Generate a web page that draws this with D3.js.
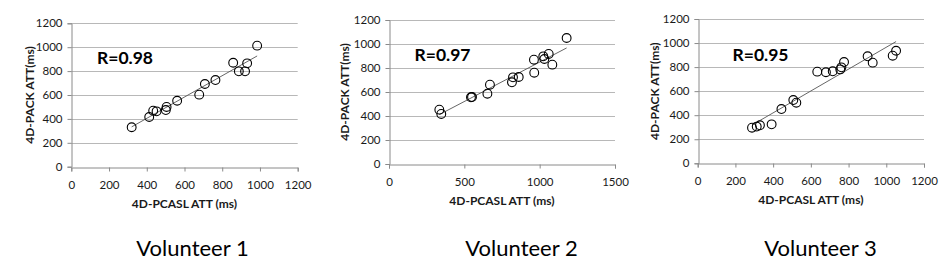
<!DOCTYPE html>
<html>
<head>
<meta charset="utf-8">
<script src="https://cdn.jsdelivr.net/npm/d3@7"></script>
<style>
  html, body { margin: 0; padding: 0; background: #fff; }
  svg { display: block; }
  text { font-family: Lato, "Noto Sans", sans-serif; }
</style>
</head>
<body>
<svg id="chart" width="945" height="274"></svg>
<script>
// ---- data ----
const volunteerLabels = ["Volunteer 1", "Volunteer 2", "Volunteer 3"];
const rLabels = ["R=0.98", "R=0.97", "R=0.95"];

const v1X = [320, 413, 434, 452, 501, 505, 561, 678, 708, 764, 858, 888, 921, 932, 985];
const v1Y = [330, 416, 469, 463, 474, 500, 552, 603, 692, 725, 870, 798, 798, 865, 1013];

const v2X = [334, 347, 544, 551, 653, 670, 816, 823, 861, 962, 964, 1024, 1031, 1060, 1084, 1179];
const v2Y = [453, 417, 556, 558, 586, 661, 681, 722, 725, 869, 761, 897, 875, 917, 828, 1050];

const v3X = [288, 313, 330, 392, 444, 507, 523, 634, 680, 716, 756, 762, 776, 901, 928, 1034, 1052];
const v3Y = [296, 305, 316, 324, 451, 526, 504, 762, 757, 765, 781, 798, 842, 890, 837, 895, 936];

const xTicksA = [0, 200, 400, 600, 800, 1000, 1200];
const xTicksB = [0, 500, 1000, 1500];
const yTicks = [0, 200, 400, 600, 800, 1000, 1200];

const xTitle = "4D-PCASL ATT (ms)";
const yTitle = "4D-PACK ATT(ms)";

// ---- layout ----
const panels = [
  { xs: v1X, ys: v1Y, xTicks: xTicksA, xMax: 1200, px: [71.3, 297.7], py: [166.7, 23.3],
    r: rLabels[0], rPos: [97, 63.5], yTitleX: 30, xTitleY: 207.5, xLabY: 185.5, vol: volunteerLabels[0], volX: 192.5 },
  { xs: v2X, ys: v2Y, xTicks: xTicksB, xMax: 1500, px: [389, 615], py: [164, 20],
    r: rLabels[1], rPos: [414.5, 61], yTitleX: 345, xTitleY: 204.5, xLabY: 184.5, vol: volunteerLabels[1], volX: 521.5 },
  { xs: v3X, ys: v3Y, xTicks: xTicksA, xMax: 1200, px: [697.7, 924], py: [163.3, 19],
    r: rLabels[2], rPos: [732.5, 60.5], yTitleX: 655, xTitleY: 204, xLabY: 183.5, vol: volunteerLabels[2], volX: 820.5 }
];

const svg = d3.select("#chart");
const gridColor = "#b8b8b8";
const axisColor = "#8a8a8a";
const labelColor = "#1a1a1a";

panels.forEach(p => {
  const x = d3.scaleLinear().domain([0, p.xMax]).range(p.px);
  const y = d3.scaleLinear().domain([0, 1200]).range(p.py);
  const g = svg.append("g");

  // gridlines
  g.append("g").selectAll("line").data(yTicks.filter(t => t > 0)).join("line")
    .attr("x1", p.px[0]).attr("x2", p.px[1])
    .attr("y1", d => Math.round(y(d)) + 0.5).attr("y2", d => Math.round(y(d)) + 0.5)
    .attr("stroke", gridColor).attr("stroke-width", 1);

  // y axis
  const ya = g.append("g").attr("transform", `translate(${Math.round(p.px[0]) + 0.5},0)`)
    .call(d3.axisLeft(y).tickValues(yTicks).tickSize(4).tickPadding(5).tickFormat(d3.format("d")));
  // x axis
  const xa = g.append("g").attr("transform", `translate(0,${Math.round(p.py[0]) + 0.5})`)
    .call(d3.axisBottom(x).tickValues(p.xTicks).tickSize(4).tickPadding(9).tickFormat(d3.format("d")));

  [ya, xa].forEach(a => {
    a.select(".domain").attr("stroke", axisColor);
    a.selectAll(".tick line").attr("stroke", axisColor);
    a.selectAll(".tick text").attr("fill", labelColor)
      .style("font-family", "Lato, sans-serif").style("font-size", "11.5px");
  });
  ya.selectAll(".tick line").attr("y1", 0).attr("y2", 0);

  // trendline (least squares over the data)
  const n = p.xs.length;
  const mx = d3.mean(p.xs), my = d3.mean(p.ys);
  let sxy = 0, sxx = 0;
  for (let i = 0; i < n; i++) { sxy += (p.xs[i] - mx) * (p.ys[i] - my); sxx += (p.xs[i] - mx) ** 2; }
  const slope = sxy / sxx, icpt = my - slope * mx;
  const x0 = d3.min(p.xs), x1 = d3.max(p.xs);
  g.append("line")
    .attr("x1", x(x0)).attr("y1", y(icpt + slope * x0))
    .attr("x2", x(x1)).attr("y2", y(icpt + slope * x1))
    .attr("stroke", "#555").attr("stroke-width", 0.9);

  // points
  g.append("g").selectAll("circle").data(p.xs.map((d, i) => [d, p.ys[i]])).join("circle")
    .attr("cx", d => x(d[0])).attr("cy", d => y(d[1])).attr("r", 4.4)
    .attr("fill", "none").attr("stroke", "#000").attr("stroke-width", 1.1);

  // R label
  g.append("text").attr("x", p.rPos[0]).attr("y", p.rPos[1])
    .attr("font-size", 17.5).attr("font-weight", "bold").attr("fill", "#000").text(p.r);

  // axis titles
  g.append("text").attr("x", (p.px[0] + p.px[1]) / 2).attr("y", p.xTitleY)
    .attr("text-anchor", "middle").attr("font-size", 12).attr("font-weight", "bold")
    .attr("fill", "#1a1a1a").text(xTitle);
  g.append("text").attr("transform", `translate(${p.yTitleX},${(p.py[0] + p.py[1]) / 2}) rotate(-90)`)
    .attr("text-anchor", "middle").attr("dy", "0.35em").attr("font-size", 12).attr("font-weight", "bold")
    .attr("fill", "#1a1a1a").text(yTitle);

  // volunteer caption
  g.append("text").attr("x", p.volX).attr("y", 256)
    .attr("text-anchor", "middle").attr("font-size", 22).attr("fill", "#000").text(p.vol);
});
</script>
</body>
</html>
